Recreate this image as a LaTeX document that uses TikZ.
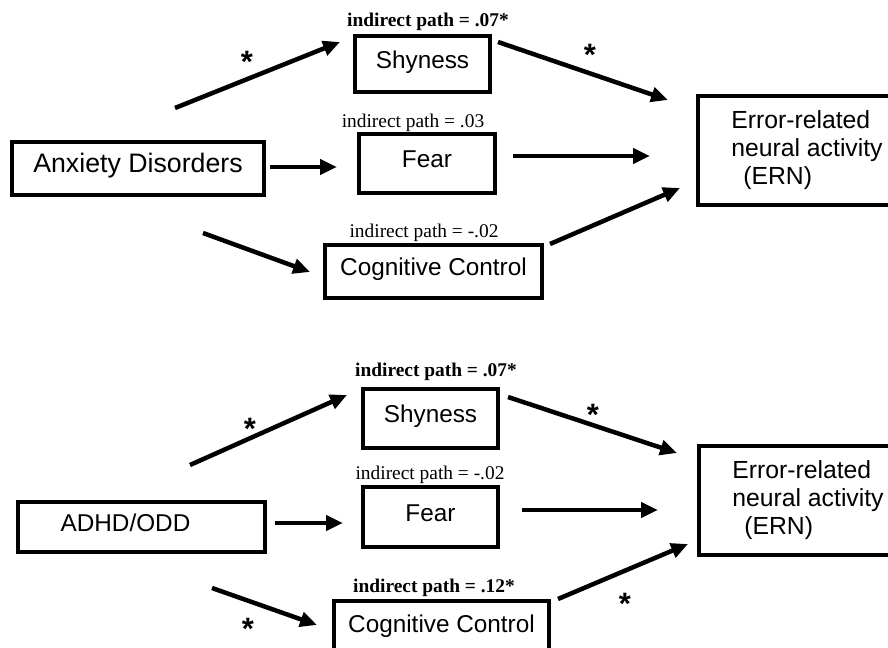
\documentclass[tikz,border=0pt]{standalone}
\usepackage{fontspec}
\setmainfont{Liberation Serif}
\setsansfont{Liberation Sans}
\usetikzlibrary{arrows.meta}

\tikzset{
  box/.style={draw, line width=2.4pt, inner sep=0pt, text height=0.75em, text depth=0.15em,
    font=\sffamily\fontsize{17.3}{20}\selectfont},
  ern/.style={draw, line width=2.4pt, inner sep=0pt, align=left,
    font=\sffamily\fontsize{17.6}{19.9}\selectfont},
  lab/.style={inner sep=0pt, font=\fontsize{13.8}{16}\selectfont\bfseries},
  labr/.style={inner sep=0pt, font=\fontsize{13.8}{16}\selectfont},
  star/.style={inner sep=0pt, font=\sffamily\bfseries\fontsize{22}{24}\selectfont},
  arr/.style={-{Triangle[length=12pt,width=10.5pt]}, line width=3.2pt},
}

\begin{document}
\begin{tikzpicture}[x=0.025cm, y=-0.025cm]
\useasboundingbox (0,0) rectangle (888,648);
%%%%% Anxiety Disorders %%%%%
\node[box, minimum width=6.3cm, minimum height=1.325cm, font=\sffamily\fontsize{19}{22}\selectfont] (anx) at (138,168.5) {Anxiety Disorders};
\node[box, minimum width=3.375cm, minimum height=1.4cm] (shyA) at (422.5,64) {Shyness};
\node[box, minimum width=3.4cm, minimum height=1.475cm] (fearA) at (427,163.5) {Fear};
\node[box, minimum width=5.425cm, minimum height=1.325cm] (ccA) at (433.5,271.5) {Cognitive Control};
\node[ern, minimum width=5.45cm, minimum height=2.725cm] (ernA) at (807,150.5) {Error-related\\neural activity\\\hspace*{0.3cm}(ERN)};
\node[lab] (labShyA) at (428,22) {indirect path = .07*};
\node[labr] (labFearA) at (413,123) {indirect path = .03};
\node[labr] (labCcA) at (424,233) {indirect path = -.02};
\node[star] (stA1) at (247,62) {*};
\node[star] (stA2) at (590,55) {*};
\coordinate (anxS) at (175,108); \coordinate (shyAin) at (340,42);
\coordinate (shyAout) at (498,42); \coordinate (ernAtop) at (668,100);
\coordinate (anxF) at (270,167); \coordinate (fearAin) at (337,167);
\coordinate (fearAout) at (513,156); \coordinate (ernAmid) at (650,156);
\coordinate (anxC) at (203,233); \coordinate (ccAin) at (310,272);
\coordinate (ccAout) at (550,244); \coordinate (ernAbot) at (680,188);
\draw[arr] (anxS) -- (shyAin);
\draw[arr] (shyAout) -- (ernAtop);
\draw[arr] (anxF) -- (fearAin);
\draw[arr] (fearAout) -- (ernAmid);
\draw[arr] (anxC) -- (ccAin);
\draw[arr] (ccAout) -- (ernAbot);
%%%%% ADHD/ODD %%%%%
\node[box, minimum width=6.175cm, minimum height=1.25cm] (adhd) at (141.5,527) {ADHD/ODD\hspace*{0.8cm}};
\node[box, minimum width=3.375cm, minimum height=1.475cm] (shyB) at (430.5,418.5) {Shyness};
\node[box, minimum width=3.375cm, minimum height=1.5cm] (fearB) at (430.5,517) {Fear};
\node[box, minimum width=5.375cm, minimum height=1.35cm] (ccB) at (441.5,628) {Cognitive Control};
\node[ern, minimum width=5.45cm, minimum height=2.725cm] (ernB) at (808,500.5) {Error-related\\neural activity\\\hspace*{0.3cm}(ERN)};
\node[lab] (labShyB) at (436,372) {indirect path = .07*};
\node[labr] (labFearB) at (430,475) {indirect path = -.02};
\node[lab] (labCcB) at (434,588) {indirect path = .12*};
\node[star] (stB1) at (250,429) {*};
\node[star] (stB2) at (593,415) {*};
\node[star] (stB3) at (248,629) {*};
\node[star] (stB4) at (625,604) {*};
\coordinate (adhdS) at (190,465); \coordinate (shyBin) at (347,395);
\coordinate (shyBout) at (508,397); \coordinate (ernBtop) at (677,453);
\coordinate (adhdF) at (275,523); \coordinate (fearBin) at (343,523);
\coordinate (fearBout) at (522,510); \coordinate (ernBmid) at (658,510);
\coordinate (adhdC) at (212,588); \coordinate (ccBin) at (317,625);
\coordinate (ccBout) at (558,599); \coordinate (ernBbot) at (688,544);
\draw[arr] (adhdS) -- (shyBin);
\draw[arr] (shyBout) -- (ernBtop);
\draw[arr] (adhdF) -- (fearBin);
\draw[arr] (fearBout) -- (ernBmid);
\draw[arr] (adhdC) -- (ccBin);
\draw[arr] (ccBout) -- (ernBbot);
\end{tikzpicture}
\end{document}
